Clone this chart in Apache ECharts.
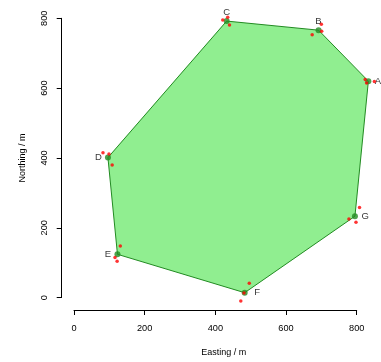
<!DOCTYPE html>
<html>
<head>
<meta charset="utf-8">
<script src="https://cdn.jsdelivr.net/npm/echarts@6/dist/echarts.min.js"></script>
<style>
  html, body { margin: 0; padding: 0; background: #fff; }
  #chart { width: 381px; height: 362px; }
</style>
</head>
<body>
<div id="chart"></div>
<script>
// Surveyed boundary vertices (metres)
const vertexNames = ['A', 'B', 'C', 'D', 'E', 'F', 'G'];
const vertexEasting = [833, 692, 432, 96, 123, 483, 795];
const vertexNorthing = [620, 766, 792, 401, 124, 14, 233];

// Individual field observations around each vertex (metres)
const obsEasting = [824, 828, 850, 700, 701, 674, 421, 435, 440, 82, 99, 108,
  131, 116, 122, 496, 481, 472, 808, 778, 798];
const obsNorthing = [625, 615, 619, 783, 763, 753, 795, 803, 781, 415, 411, 380,
  148, 115, 104, 41, 13, -10, 258, 225, 216];

// Axis ticks
const eastingTicks = [0, 200, 400, 600, 800];
const northingTicks = [0, 200, 400, 600, 800];

// Where each vertex letter sits relative to its point
const labelSide = { A: 'right', B: 'top', C: 'top', D: 'left', E: 'left', F: 'right', G: 'right' };
const labelGap = { A: 3.5, B: 1, C: 1, D: 3, E: 3.5, F: 6.5, G: 3.5 };

const font = 'Liberation Sans, Arial, Helvetica, sans-serif';
const chart = echarts.init(document.getElementById('chart'), null, { renderer: 'canvas' });

const vertexPoints = vertexNames.map((n, i) => [vertexEasting[i], vertexNorthing[i]]);
const obsPoints = obsEasting.map((e, i) => [e, obsNorthing[i]]);

const axisCommon = {
  type: 'value',
  interval: 200,
  axisLine: { show: true, onZero: false, lineStyle: { color: '#000', width: 1 } },
  axisTick: { show: true, length: 5, lineStyle: { color: '#000' } },
  splitLine: { show: false },
  nameLocation: 'middle',
  nameTextStyle: { fontFamily: font, fontSize: 9, color: '#000' }
};

chart.setOption({
  animation: false,
  backgroundColor: '#fff',
  grid: { left: 74, right: 24.3, top: 18.3, bottom: 61.7, containLabel: false },
  xAxis: Object.assign({}, axisCommon, {
    min: eastingTicks[0],
    max: eastingTicks[eastingTicks.length - 1],
    offset: 12.4,
    name: 'Easting / m',
    nameGap: 38,
    nameTextStyle: { fontFamily: font, fontSize: 9, color: '#000', padding: [0, 0, 0, 17] },
    axisLabel: { fontFamily: font, fontSize: 9.2, color: '#000', margin: 14 }
  }),
  yAxis: Object.assign({}, axisCommon, {
    min: northingTicks[0],
    max: northingTicks[northingTicks.length - 1],
    offset: 12.3,
    name: 'Northing / m',
    nameGap: 35,
    axisLabel: { fontFamily: font, fontSize: 9.2, color: '#000', margin: 13, rotate: 90 }
  }),
  series: [
    {
      // boundary polygon through the vertices
      type: 'custom',
      clip: false,
      data: [0],
      renderItem: function (params, api) {
        const pts = vertexPoints.map(p => api.coord(p));
        return {
          type: 'polygon',
          shape: { points: pts },
          style: { fill: '#90EE90', stroke: '#228B22', lineWidth: 1 }
        };
      },
      z: 1
    },
    {
      type: 'scatter',
      clip: false,
      symbol: 'circle',
      symbolSize: 6,
      itemStyle: { color: '#228B22' },
      data: vertexNames.map((n, i) => ({
        name: n,
        value: vertexPoints[i],
        label: {
          show: true,
          position: labelSide[n],
          distance: labelGap[n],
          formatter: '{b}',
          fontFamily: font,
          fontSize: 9.5,
          color: '#000'
        }
      })),
      z: 2
    },
    {
      type: 'scatter',
      clip: false,
      symbol: 'circle',
      symbolSize: 3.5,
      itemStyle: { color: '#FF0000' },
      data: obsPoints,
      z: 3
    }
  ]
});
</script>
</body>
</html>
